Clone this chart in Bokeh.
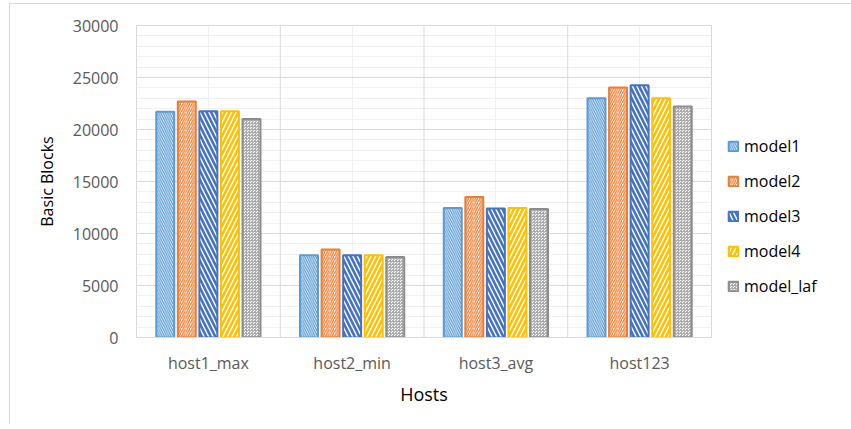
from bokeh.plotting import figure
from bokeh.models import ColumnDataSource, FactorRange, Range1d, Legend, LegendItem, Span, SingleIntervalTicker
from bokeh.transform import dodge
from bokeh.embed import file_html
from bokeh.resources import INLINE

hosts = ["host1_max", "host2_min", "host3_avg", "host123"]
model1 = [21700, 7900, 12450, 23000]
model2 = [22700, 8450, 13500, 24050]
model3 = [21750, 7900, 12400, 24250]
model4 = [21750, 7900, 12450, 23000]
model_laf = [21000, 7750, 12350, 22200]
series_names = ["model1", "model2", "model3", "model4", "model_laf"]

src = ColumnDataSource(dict(hosts=hosts, model1=model1, model2=model2, model3=model3,
                            model4=model4, model_laf=model_laf))

FONT = "Open Sans"
p = figure(x_range=FactorRange(*hosts, range_padding=0), y_range=Range1d(0, 30000),
           frame_width=575, frame_height=312, output_backend="svg", toolbar_location=None,
           min_border_left=126, min_border_right=134, min_border_top=21, min_border_bottom=87)
p.outline_line_color = "#D9D9D9"
p.outline_line_width = 1

styles = [
    dict(color="#5B9BD5", pattern="left_diagonal_line", scale=4.5, weight=1.3),
    dict(color="#ED7D31", pattern="right_diagonal_line", scale=4.5, weight=1.3),
    dict(color="#4472C4", pattern="left_diagonal_line", scale=9, weight=2.6),
    dict(color="#FFC000", pattern="right_diagonal_line", scale=9, weight=2.6),
    dict(color="#A5A5A5", pattern="criss_cross", scale=3, weight=0.8),
]
offsets = [-0.3, -0.15, 0.0, 0.15, 0.3]
items = []
for name, off, st in zip(series_names, offsets, styles):
    line_c = "#8C8C8C" if name == "model_laf" else st["color"]
    r = p.vbar(x=dodge("hosts", off, range=p.x_range), top=name, width=0.125, source=src,
               fill_color="white", line_color=line_c, line_width=2,
               hatch_pattern=st["pattern"], hatch_color=st["color"], hatch_scale=st["scale"],
               hatch_weight=st["weight"])
    items.append(LegendItem(label=name, renderers=[r]))

for b in [1, 2, 3]:
    p.add_layout(Span(location=b, dimension="height", line_color="#D9D9D9", line_width=1, level="underlay"))

legend = Legend(items=items, location=(16, 40), orientation="vertical",
                glyph_width=12, glyph_height=12, label_height=20, spacing=13,
                label_standoff=5, padding=0, margin=0, border_line_color=None,
                background_fill_alpha=0, label_text_font=FONT, label_text_font_size="16px",
                label_text_color="#000000")
p.add_layout(legend, "right")

p.ygrid.grid_line_color = "#D9D9D9"
p.ygrid.minor_grid_line_color = "#F0F0F0"
p.yaxis.ticker = SingleIntervalTicker(interval=5000, num_minor_ticks=5)
p.xgrid.grid_line_color = "#F0F0F0"

for ax in (p.xaxis, p.yaxis):
    ax.major_tick_line_color = None
    ax.minor_tick_line_color = None
    ax.major_label_text_font = FONT
    ax.major_label_text_font_size = "16px"
    ax.major_label_text_color = "#595959"
    ax.axis_label_text_font = FONT
    ax.axis_label_text_font_style = "normal"
    ax.axis_label_text_color = "#000000"
p.yaxis.axis_line_color = None
p.xaxis.axis_line_color = "#D9D9D9"
p.yaxis.major_label_standoff = 12
p.xaxis.major_label_standoff = 8
p.yaxis.axis_label = "Basic Blocks"
p.xaxis.axis_label = "Hosts"
p.yaxis.axis_label_text_font_size = "16px"
p.xaxis.axis_label_text_font_size = "18px"
p.yaxis.axis_label_standoff = 12
p.xaxis.axis_label_standoff = 5
p.styles = {"border-top": "1px solid #D9D9D9", "border-left": "1px solid #D9D9D9",
            "margin-left": "9px", "margin-top": "3px"}

open("out.html", "w").write(file_html(p, INLINE))
